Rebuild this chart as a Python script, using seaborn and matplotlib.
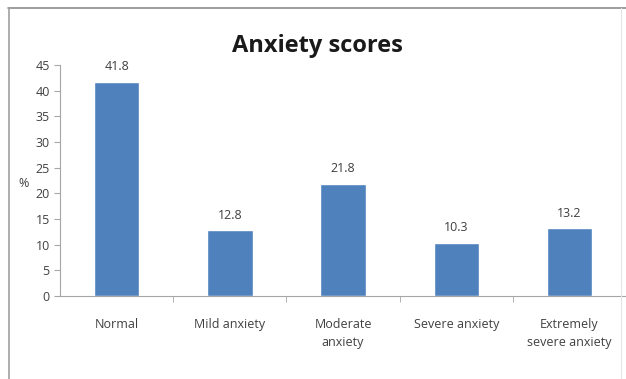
import matplotlib
matplotlib.use("Agg")
import matplotlib.pyplot as plt
import seaborn as sns
import pandas as pd
from matplotlib.lines import Line2D

# chart values
categories = ["Normal", "Mild anxiety", "Moderate\nanxiety", "Severe anxiety", "Extremely\nsevere anxiety"]
percent = [41.8, 12.8, 21.8, 10.3, 13.2]
yticks = [0, 5, 10, 15, 20, 25, 30, 35, 40, 45]

data = pd.DataFrame({"group": categories, "pct": percent})

sns.set_style("white")
plt.rcParams["font.family"] = ["Open Sans", "DejaVu Sans"]

fig = plt.figure(figsize=(6.26, 3.79), dpi=100)
ax = fig.add_axes([0.096, 0.219, 0.904, 0.609])

sns.barplot(data=data, x="group", y="pct", color="#4F81BD", saturation=1,
            width=0.4, ax=ax)

# value labels above bars
for i, v in enumerate(percent):
    ax.text(i, v + 1.7, f"{v:.1f}", ha="center", va="bottom", fontsize=9, color="#404040")

ax.set_ylim(0, 45)
ax.set_xlim(-0.5, 4.5)
ax.set_yticks(yticks)
ax.set_xlabel("")
ax.set_ylabel("%", rotation=0, fontsize=9, color="#404040", labelpad=2)
ax.yaxis.set_label_coords(-0.065, 0.46)

grey = "#a6a6a6"
for side in ["top", "right"]:
    ax.spines[side].set_visible(False)
ax.spines["left"].set_color(grey)
ax.spines["bottom"].set_color(grey)
ax.spines["left"].set_linewidth(0.8)
ax.spines["bottom"].set_linewidth(0.8)

ax.tick_params(axis="y", direction="out", length=4, color=grey, labelsize=9,
               labelcolor="#404040", left=True)
# x tick marks sit between categories, labels at centers
ax.set_xticks([i - 0.5 for i in range(1, 5)], minor=True)
ax.tick_params(axis="x", which="minor", direction="out", length=4, color=grey, bottom=True)
ax.tick_params(axis="x", which="major", length=0, pad=16, labelsize=9, labelcolor="#404040")
for lab in ax.get_xticklabels():
    lab.set_linespacing(1.5)

ax.set_title("Anxiety scores", fontsize=17, fontweight="bold", color="#1a1a1a",
             x=0.455, y=1.02)

# outer chart frame
fig.add_artist(Line2D([8 / 626, 1], [1 - 7.5 / 379, 1 - 7.5 / 379], color="#8c8c8c", lw=1.2))
fig.add_artist(Line2D([8.5 / 626, 8.5 / 626], [0, 1 - 7.5 / 379], color="#a0a0a0", lw=1.2))
fig.add_artist(Line2D([621 / 626, 621 / 626], [0, 1 - 7.5 / 379], color="#e6e6e6", lw=0.8))

fig.savefig("out.png", dpi=100)
